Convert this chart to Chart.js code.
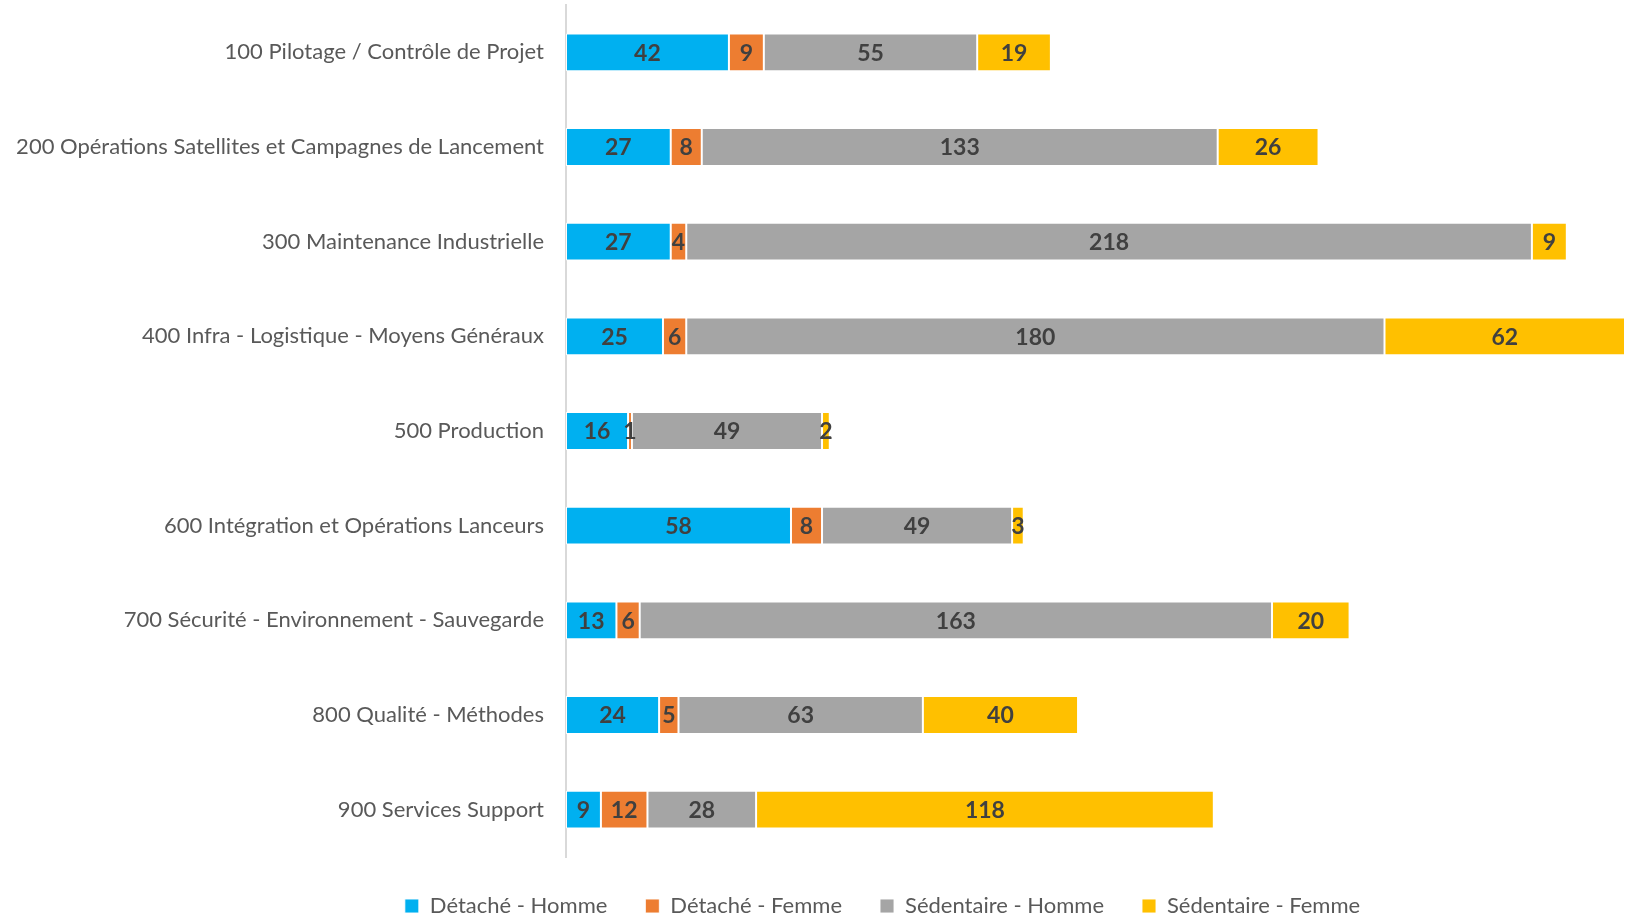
<!DOCTYPE html>
<html><head><meta charset="utf-8">
<script src="https://cdn.jsdelivr.net/npm/chart.js@4.4.0/dist/chart.umd.min.js"></script>
<style>html,body{margin:0;padding:0;background:#fff;}#wrap{width:1625px;height:919px;position:relative;}</style>
</head><body><div id="wrap"><canvas id="c"></canvas></div>
<script>
const categories = [
  '100 Pilotage / Contrôle de Projet',
  '200 Opérations Satellites et Campagnes de Lancement',
  '300 Maintenance Industrielle',
  '400 Infra - Logistique - Moyens Généraux',
  '500 Production',
  '600 Intégration et Opérations Lanceurs',
  '700 Sécurité - Environnement - Sauvegarde',
  '800 Qualité - Méthodes',
  '900 Services Support'
];
const detacheHomme    = [42, 27, 27, 25, 16, 58, 13, 24, 9];
const detacheFemme    = [9, 8, 4, 6, 1, 8, 6, 5, 12];
const sedentaireHomme = [55, 133, 218, 180, 49, 49, 163, 63, 28];
const sedentaireFemme = [19, 26, 9, 62, 2, 3, 20, 40, 118];
const seriesNames  = ['Détaché - Homme', 'Détaché - Femme', 'Sédentaire - Homme', 'Sédentaire - Femme'];
const seriesColors = ['#00B0F0', '#ED7D31', '#A5A5A5', '#FFC000'];
const seriesValues = [detacheHomme, detacheFemme, sedentaireHomme, sedentaireFemme];

const FONT = 'Lato';

const barLabels = {
  id: 'barLabels',
  afterDatasetsDraw(chart) {
    const ctx = chart.ctx;
    ctx.save();
    ctx.font = 'bold 23px ' + FONT;
    ctx.fillStyle = '#404040';
    ctx.textAlign = 'center';
    ctx.textBaseline = 'middle';
    chart.data.datasets.forEach((ds, i) => {
      const meta = chart.getDatasetMeta(i);
      meta.data.forEach((bar, j) => {
        const v = ds.data[j];
        const x = (bar.x + bar.base) / 2;
        ctx.fillText(String(v), x, bar.y + 1);
      });
    });
    ctx.restore();
  }
};

const legendShift = {
  id: 'legendShift',
  afterLayout(chart) {
    const lg = chart.legend;
    if (lg) { lg.left = 140; }
  }
};

new Chart(document.getElementById('c'), {
  type: 'bar',
  data: {
    labels: categories,
    datasets: seriesNames.map((n, i) => ({
      label: n,
      data: seriesValues[i],
      backgroundColor: seriesColors[i],
      borderColor: 'rgba(255,255,255,0.9)',
      borderWidth: 1,
      borderSkipped: false,
      barPercentage: 0.4,
      categoryPercentage: 1
    }))
  },
  options: {
    indexAxis: 'y',
    responsive: true,
    maintainAspectRatio: false,
    animation: false,
    layout: { padding: { left: 0, right: 0, top: 5, bottom: -8 } },
    scales: {
      x: { stacked: true, display: false, min: 0, max: 273 },
      y: {
        stacked: true,
        grid: { display: false, drawTicks: false },
        border: { display: true, color: '#D9D9D9', width: 2 },
        ticks: { color: '#595959', font: { family: FONT, size: 22 }, padding: 22 },
        afterFit(scale) { scale.width = 566; scale.paddingTop = 0; scale.paddingBottom = 0; }
      }
    },
    plugins: {
      legend: {
        position: 'bottom',
        labels: {
          color: '#595959',
          font: { family: FONT, size: 22 },
          boxWidth: 14, boxHeight: 14,
          padding: 38
        }
      },
      tooltip: { enabled: false }
    }
  },
  plugins: [barLabels, legendShift]
});
</script>
</body></html>
